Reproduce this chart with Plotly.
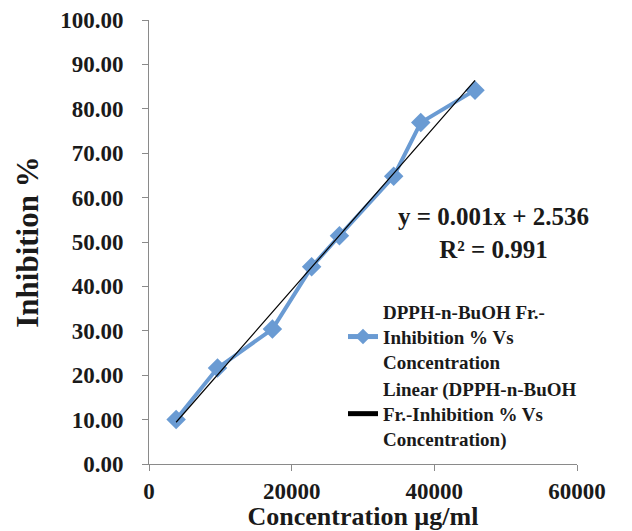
import numpy as np
import plotly.graph_objects as go

# Data
concentration = [3800, 9600, 17300, 22800, 26700, 34300, 38100, 45700]
inhibition = [10.0, 21.6, 30.4, 44.4, 51.4, 64.8, 76.9, 84.2]

series_name = "DPPH-n-BuOH Fr.-<br>Inhibition % Vs<br>Concentration"
trend_name = "Linear (DPPH-n-BuOH<br>Fr.-Inhibition % Vs<br>Concentration)"
equation_text = "y = 0.001x + 2.536<br>R² = 0.991"

x_ticks = [0, 20000, 40000, 60000]
y_ticks = [0, 10, 20, 30, 40, 50, 60, 70, 80, 90, 100]

# Linear trendline fitted to the data (as the spreadsheet does)
slope, intercept = np.polyfit(concentration, inhibition, 1)
trend_x = [min(concentration), max(concentration)]
trend_y = [slope * v + intercept for v in trend_x]

FONT = "Liberation Serif"
BLUE = "#6a9bd3"
TXT = "#1a1a1a"
AXC = "#8a8a8a"

# page has an 8px body margin; figure sized to fit the window
W, H = 624, 523
OFF = 8
PX0, PX1, PY0, PY1 = 149, 577, 20, 464  # plot area on screen
L, T = PX0 - OFF, PY0 - OFF
R, B = W - (PX1 - OFF), H - (PY1 - OFF)
PW, PH = PX1 - PX0, PY1 - PY0

def px(x):
    return (x - PX0) / PW

def py(y):
    return (PY1 - y) / PH

fig = go.Figure()
fig.add_trace(go.Scatter(
    x=concentration, y=inhibition, mode="lines+markers",
    name="<b>" + series_name + "</b>",
    line=dict(color=BLUE, width=4),
    marker=dict(symbol="diamond", size=15, color=BLUE),
))
fig.add_trace(go.Scatter(
    x=trend_x, y=trend_y, mode="lines",
    name="<b>" + trend_name + "</b>",
    line=dict(color="black", width=1.2),
))

fig.add_annotation(
    x=px(493), y=py(233), xref="paper", yref="paper",
    text="<b>" + equation_text + "</b>",
    showarrow=False, font=dict(family=FONT, size=25, color=TXT),
    align="center", xanchor="center", yanchor="middle",
)

fig.update_layout(
    width=W, height=H,
    margin=dict(l=L, r=R, t=T, b=B),
    paper_bgcolor="white", plot_bgcolor="white",
    font=dict(family=FONT, color=TXT),
    showlegend=True,
    legend=dict(
        x=px(343), y=py(293), xanchor="left", yanchor="top",
        font=dict(family=FONT, size=19, color=TXT),
        bgcolor="rgba(0,0,0,0)", tracegroupgap=0,
        itemsizing="constant",
    ),
    xaxis=dict(
        range=[0, 60000], tickvals=x_ticks, ticktext=[f"<b>{v}</b>" for v in x_ticks],
        showgrid=False, zeroline=False, showline=True, linecolor=AXC, linewidth=1,
        ticks="outside", ticklen=6, tickcolor=AXC, automargin=False,
        tickfont=dict(family=FONT, size=23, color=TXT),
        title=dict(text="<b>Concentration µg/ml</b>", font=dict(family=FONT, size=26, color=TXT), standoff=0),
    ),
    yaxis=dict(
        range=[0, 100], tickvals=y_ticks, ticktext=[f"<b>{v:.2f}</b>" for v in y_ticks],
        showgrid=False, zeroline=False, showline=True, linecolor=AXC, linewidth=1,
        ticks="outside", ticklen=6, tickcolor=AXC, automargin=False,
        ticklabelstandoff=14,
        tickfont=dict(family=FONT, size=23, color=TXT),
        title=dict(text="<b>Inhibition %</b>", font=dict(family=FONT, size=31, color=TXT), standoff=12),
    ),
)

fig.write_html("out.html")
